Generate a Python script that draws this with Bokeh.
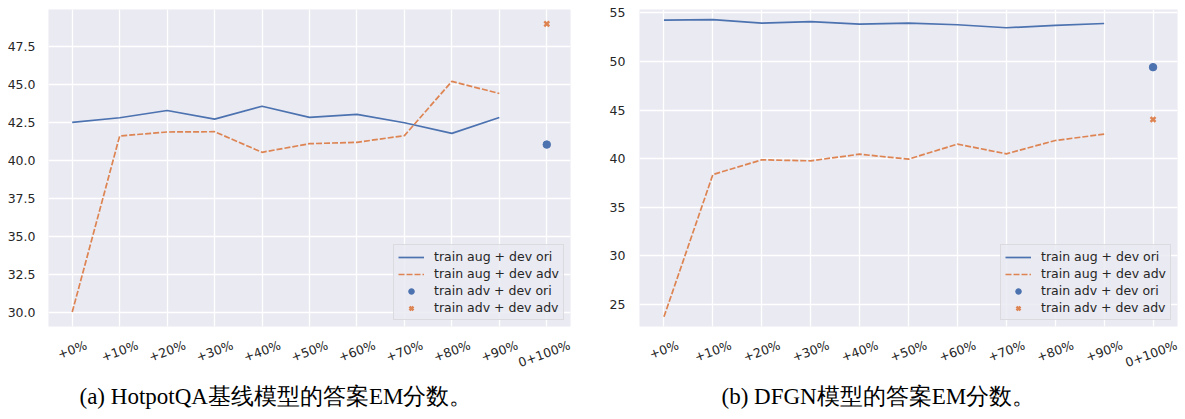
import math
from bokeh.plotting import figure
from bokeh.models import (Range1d, FixedTicker, Legend, LegendItem,
                          Title, LinearAxis, CustomJSTickFormatter,
                          NumeralTickFormatter)
from bokeh.layouts import row
from bokeh.embed import file_html
from bokeh.resources import INLINE

# ---------------- data ----------------
categories = ["+0%", "+10%", "+20%", "+30%", "+40%", "+50%", "+60%", "+70%",
              "+80%", "+90%", "0+100%"]
n_aug = 10  # the first ten categories carry the "train aug" lines

series_labels = ["train aug + dev ori", "train aug + dev adv",
                 "train adv + dev ori", "train adv + dev adv"]

# (a) HotpotQA baseline
hotpot_aug_ori = [42.51, 42.82, 43.30, 42.73, 43.58, 42.84, 43.04, 42.49, 41.79, 42.84]
hotpot_aug_adv = [30.00, 41.62, 41.88, 41.90, 40.54, 41.11, 41.20, 41.64, 45.22, 44.42]
hotpot_adv_ori = [41.05]
hotpot_adv_adv = [49.01]
hotpot_yticks = [30.0, 32.5, 35.0, 37.5, 40.0, 42.5, 45.0, 47.5]
hotpot_caption = "(a) HotpotQA基线模型的答案EM分数。"

# (b) DFGN
dfgn_aug_ori = [54.25, 54.30, 53.94, 54.10, 53.83, 53.94, 53.77, 53.46, 53.70, 53.90]
dfgn_aug_adv = [23.74, 38.37, 39.88, 39.78, 40.46, 39.95, 41.50, 40.50, 41.87, 42.52]
dfgn_adv_ori = [49.41]
dfgn_adv_adv = [44.03]
dfgn_yticks = [25, 30, 35, 40, 45, 50, 55]
dfgn_caption = "(b) DFGN模型的答案EM分数。"

BLUE = "#4C72B0"
ORANGE = "#DD8452"
BG = "#EAEAF2"
TXT = "#262626"
FS_PX = 12.5
FS = "12.5px"
ANGLE = 0.35  # rotation of x tick labels (rad)

# approximate DejaVu Sans advance widths (em), used to centre rotated labels
_W = {"+": 0.838, "%": 0.950}


def _text_w(s):
    return sum(_W.get(c, 0.636) for c in s) * FS_PX


def _plain_axis(ax):
    ax.axis_line_color = None
    ax.major_tick_line_color = None
    ax.minor_tick_line_color = None
    ax.major_tick_in = 0
    ax.minor_tick_in = 0
    ax.minor_tick_out = 0


def make_panel(aug_ori, aug_adv, adv_ori, adv_adv, yticks, yfmt, caption,
               width, height, mb_left, mb_right, mb_top, mb_bottom,
               cap_offset, spacer, ystandoff, pad_lo, pad_hi):
    allv = aug_ori + aug_adv + adv_ori + adv_adv
    lo, hi = min(allv), max(allv)
    span = hi - lo
    n = len(categories)
    centers = [i + 0.5 for i in range(n)]          # category slots
    p = figure(x_range=Range1d(0, n),
               y_range=Range1d(lo - pad_lo * span, hi + pad_hi * span),
               width=width, height=height, output_backend="svg",
               toolbar_location=None,
               min_border_left=mb_left, min_border_right=mb_right,
               min_border_top=mb_top, min_border_bottom=mb_bottom)
    p.background_fill_color = BG
    p.border_fill_color = "white"
    p.outline_line_color = None

    p.grid.grid_line_color = "white"
    p.grid.grid_line_width = 1.3
    p.xgrid.ticker = FixedTicker(ticks=centers)
    p.ygrid.ticker = FixedTicker(ticks=yticks)

    _plain_axis(p.yaxis[0])
    p.yaxis.major_tick_out = 0
    p.yaxis.major_label_text_font = "DejaVu Sans"
    p.yaxis.major_label_text_font_size = FS
    p.yaxis.major_label_text_color = TXT
    p.yaxis.ticker = FixedTicker(ticks=yticks)
    p.yaxis.formatter = NumeralTickFormatter(format=yfmt)
    p.yaxis.major_label_standoff = ystandoff

    # x tick labels: anchored so that each rotated label is centred on its slot
    frame_w = width - mb_left - mb_right
    ppu = frame_w / n
    ca = math.cos(ANGLE)
    pos = [min(c + (_text_w(lab) / 2.0) * ca / ppu, n - 0.02)
           for c, lab in zip(centers, categories)]
    xa = p.xaxis[0]
    _plain_axis(xa)
    xa.ticker = FixedTicker(ticks=pos, minor_ticks=[])
    xa.formatter = CustomJSTickFormatter(
        args=dict(labels=categories, pos=pos),
        code="""
let b = 0;
for (let i = 0; i < pos.length; i++) {
  if (Math.abs(pos[i] - tick) < Math.abs(pos[b] - tick)) { b = i; }
}
return labels[b];""")
    xa.major_tick_out = 0
    xa.major_label_standoff = 18
    xa.major_label_orientation = ANGLE
    xa.major_label_text_font = "DejaVu Sans"
    xa.major_label_text_font_size = FS
    xa.major_label_text_color = TXT

    # empty spacer between the tick labels and the caption
    spacer_axis = LinearAxis(ticker=FixedTicker(ticks=[], minor_ticks=[]))
    _plain_axis(spacer_axis)
    spacer_axis.major_tick_out = spacer
    spacer_axis.major_label_standoff = 0
    p.add_layout(spacer_axis, "below")

    r1 = p.line(centers[:n_aug], aug_ori, line_color=BLUE, line_width=1.7)
    r2 = p.line(centers[:n_aug], aug_adv, line_color=ORANGE, line_width=1.7,
                line_dash="6 2")
    r3 = p.scatter(centers[n_aug:], adv_ori, marker="circle", size=7.5,
                   fill_color=BLUE, line_color=BLUE)
    r4 = p.scatter(centers[n_aug:], adv_adv, marker="x", size=7,
                   line_color=ORANGE, line_width=2.5)

    legend = Legend(items=[LegendItem(label=series_labels[0], renderers=[r1]),
                           LegendItem(label=series_labels[1], renderers=[r2]),
                           LegendItem(label=series_labels[2], renderers=[r3]),
                           LegendItem(label=series_labels[3], renderers=[r4])],
                    location="bottom_right", margin=6, padding=4, spacing=2,
                    label_height=14, glyph_height=14, glyph_width=26,
                    label_standoff=10,
                    label_text_font="DejaVu Sans",
                    label_text_font_size=FS, label_text_color=TXT,
                    background_fill_color=BG, background_fill_alpha=0.85,
                    border_line_color="#CCCCCC", border_line_width=1)
    p.add_layout(legend)

    cap = Title(text=caption, align="left", offset=cap_offset, standoff=2,
                text_font="Liberation Serif", text_font_size="23px",
                text_font_style="normal", text_color="black")
    p.add_layout(cap, "below")
    return p


p1 = make_panel(hotpot_aug_ori, hotpot_aug_adv, hotpot_adv_ori, hotpot_adv_adv,
                hotpot_yticks, "0.0", hotpot_caption,
                width=579, height=417, mb_left=48, mb_right=9, mb_top=9,
                mb_bottom=91, cap_offset=31, spacer=14, ystandoff=13,
                pad_lo=0.05, pad_hi=0.05)
p2 = make_panel(dfgn_aug_ori, dfgn_aug_adv, dfgn_adv_ori, dfgn_adv_adv,
                dfgn_yticks, "0", dfgn_caption,
                width=600, height=417, mb_left=60, mb_right=2, mb_top=9,
                mb_bottom=91, cap_offset=82, spacer=14, ystandoff=14,
                pad_lo=0.0326, pad_hi=0.034)

layout = row(p1, p2, spacing=0)

with open("out.html", "w") as f:
    f.write(file_html(layout, INLINE))
